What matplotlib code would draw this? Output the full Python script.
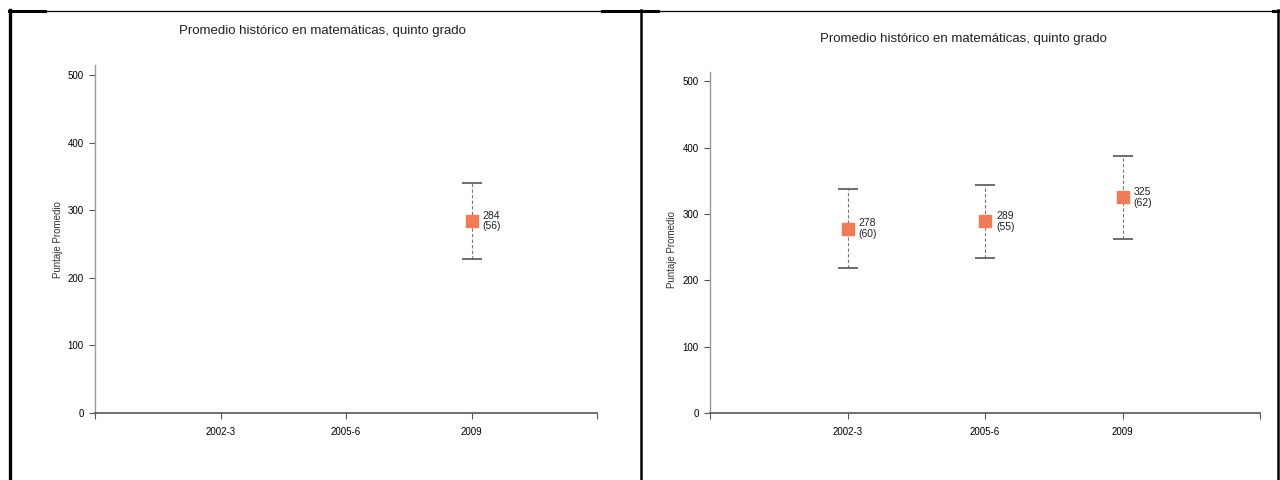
import matplotlib
matplotlib.use("Agg")
import matplotlib.pyplot as plt
from matplotlib.lines import Line2D

# data
categories = ["2002-3", "2005-6", "2009"]
titleText = "Promedio histórico en matemáticas, quinto grado"
yLabelText = "Puntaje Promedio"
yTicks = [0, 100, 200, 300, 400, 500]

leftPos = [3]
leftMeans = [284]
leftSd = [56]

rightPos = [1, 2, 3]
rightMeans = [278, 289, 325]
rightSd = [60, 55, 62]

W, H = 1280, 480
plt.rcParams["font.family"] = ["Liberation Sans", "DejaVu Sans"]
fig = plt.figure(figsize=(W / 100, H / 100), dpi=100)


def px(x0, y0, x1, y1):
    # pixel box (top-left origin) to figure fraction
    return [x0 / W, 1 - y1 / H, (x1 - x0) / W, (y1 - y0) / H]


def drawPanel(rect, ymax, pos, means, sds, titleX, titleY, ylabX):
    ax = fig.add_axes(rect)
    ax.set_xlim(0, 4)
    ax.set_ylim(0, ymax)
    for s in ["top", "right"]:
        ax.spines[s].set_visible(False)
    ax.spines["left"].set_color("#9a9a9a")
    ax.spines["bottom"].set_color("#555555")
    ax.spines["left"].set_linewidth(1.0)
    ax.spines["bottom"].set_linewidth(1.2)
    ax.set_yticks(yTicks)
    ax.set_xticks([0, 1, 2, 3, 4])
    ax.set_xticklabels([""] + categories + [""])
    ax.tick_params(axis="both", labelsize=7, color="#555555", length=4, pad=4)
    ax.tick_params(axis="x", pad=6)

    for x, m, s in zip(pos, means, sds):
        ax.errorbar(x, m, yerr=s, fmt="none", ecolor="#555555", elinewidth=0.8,
                    capsize=7, capthick=1.2, linestyle="--")
        eb = ax.containers[-1]
        for lc in eb.lines[2]:
            lc.set_linestyle((0, (3, 2)))
            lc.set_color("#777777")
        ax.plot(x, m, marker="s", markersize=9, color="#f07b55", linestyle="none",
                zorder=5)
        ax.annotate("{0}\n({1})".format(m, s), (x, m), xytext=(8, 0),
                    textcoords="offset points", va="center", ha="left",
                    fontsize=7.5, color="#222222", linespacing=1.1)

    fig.text(titleX / W, 1 - titleY / H, titleText, ha="center", va="center",
             fontsize=9.5, color="#222222")
    fig.text(ylabX / W, 1 - 240 / H if ylabX < 640 else 1 - 250 / H, yLabelText,
             rotation=90, ha="center", va="center", fontsize=7, color="#333333")
    return ax


drawPanel(px(95, 65, 597, 413), 515, leftPos, leftMeans, leftSd, 322, 31, 58)
drawPanel(px(710, 72, 1260, 413), 514, rightPos, rightMeans, rightSd, 963, 39, 672)

# table borders
def fline(xs, ys, lw):
    fig.add_artist(Line2D([x / W for x in xs], [1 - y / H for y in ys],
                          color="black", linewidth=lw, transform=fig.transFigure))

fline([9, 1280], [10.5, 10.5], 0.9)
fline([9, 45], [10.5, 10.5], 2.2)
fline([602, 658], [10.5, 10.5], 2.2)
fline([1273, 1280], [10.5, 10.5], 2.2)
fline([10, 10], [10, 480], 2.4)
fline([641, 641], [10, 480], 1.8)
fline([1278, 1278], [10, 480], 1.8)

fig.savefig("out.png", dpi=100, facecolor="white")
